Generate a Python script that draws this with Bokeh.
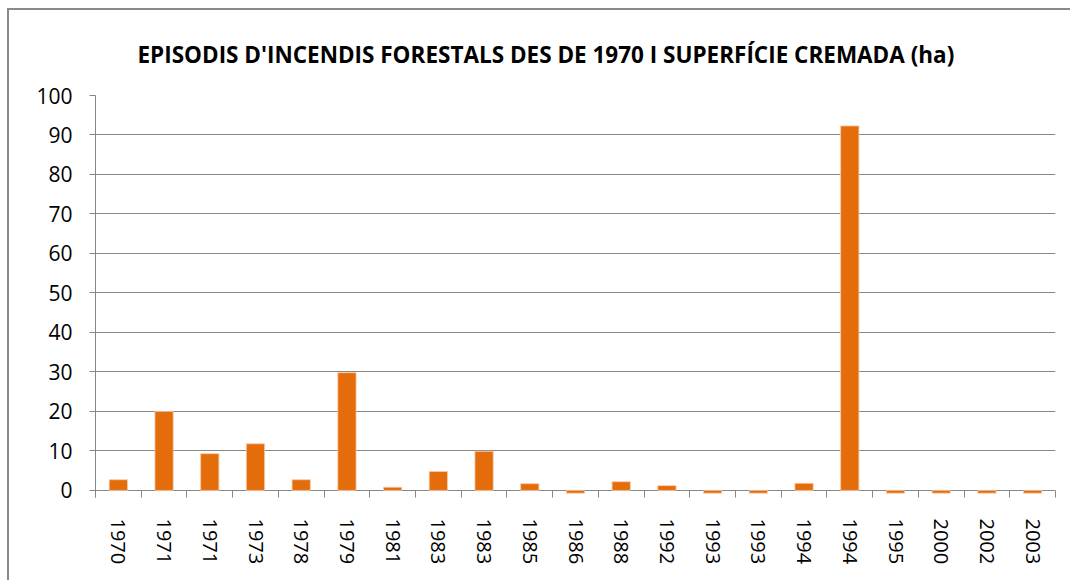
from bokeh.plotting import figure
from bokeh.models import Range1d, FixedTicker, Title
from bokeh.embed import file_html
from bokeh.resources import INLINE

years = ["1970", "1971", "1971", "1973", "1978", "1979", "1981", "1983", "1983", "1985",
         "1986", "1988", "1992", "1993", "1993", "1994", "1994", "1995", "2000", "2002", "2003"]
hectares = [2.7, 20.0, 9.3, 11.8, 2.7, 29.8, 0.8, 4.8, 9.9, 1.7,
            -0.7, 2.2, 1.2, -0.7, -0.7, 1.8, 92.3, -0.7, -0.7, -0.7, -0.7]
y_ticks = [0, 10, 20, 30, 40, 50, 60, 70, 80, 90, 100]
title_text = "EPISODIS D'INCENDIS FORESTALS  DES  DE 1970 I SUPERFÍCIE CREMADA  (ha)"

FONT = "Open Sans"
GREY = "#878787"

idx = list(range(len(years)))

p = figure(width=1063, height=572, output_backend="svg", toolbar_location=None,
           x_range=Range1d(-0.5, len(years) - 0.5), y_range=Range1d(-1.8, 100),
           min_border_left=86, min_border_right=17, min_border_top=85, min_border_bottom=85)
p.title = None
t = Title(text=title_text, align="left", offset=42, text_font=FONT, text_font_size="22.5px",
          text_font_style="bold", text_color="#000000", standoff=52)
p.add_layout(t, "above")

p.vbar(x=idx, top=hectares, bottom=0, width=0.4, fill_color="#E46C0A",
       line_color="#F8CBAD", line_width=0.8)

p.outline_line_color = None
p.xgrid.visible = False
p.ygrid.ticker = FixedTicker(ticks=y_ticks)
p.ygrid.grid_line_color = GREY
p.ygrid.grid_line_width = 1

# y axis
p.yaxis.ticker = FixedTicker(ticks=y_ticks)
p.yaxis.axis_line_color = GREY
p.yaxis.major_tick_line_color = GREY
p.yaxis.major_tick_out = 6
p.yaxis.major_tick_in = 0
p.yaxis.minor_tick_line_color = None
p.yaxis.major_label_standoff = 17
p.yaxis.major_label_text_font = FONT
p.yaxis.major_label_text_font_size = "21px"
p.yaxis.major_label_text_color = "#000000"

# x axis
p.xaxis.ticker = FixedTicker(ticks=idx, minor_ticks=[i - 0.5 for i in range(len(years) + 1)])
p.xaxis.major_label_overrides = {i: y for i, y in enumerate(years)}
p.xaxis.axis_line_color = None
p.xaxis.major_tick_line_color = None
p.xaxis.major_tick_out = 0
p.xaxis.minor_tick_line_color = GREY
p.xaxis.minor_tick_in = 7
p.xaxis.minor_tick_out = 0
p.xaxis.major_label_orientation = "vertical"
p.xaxis.major_label_standoff = 21
p.xaxis.major_label_text_font = FONT
p.xaxis.major_label_text_font_size = "20px"
p.xaxis.major_label_text_color = "#000000"

p.styles = {"margin-left": "7px", "margin-top": "8px",
            "border-left": "2px solid #8a8a8a", "border-top": "2px solid #8a8a8a",
            "border-right": "0px none", "border-bottom": "0px none"}

open("out.html", "w").write(file_html(p, INLINE))
